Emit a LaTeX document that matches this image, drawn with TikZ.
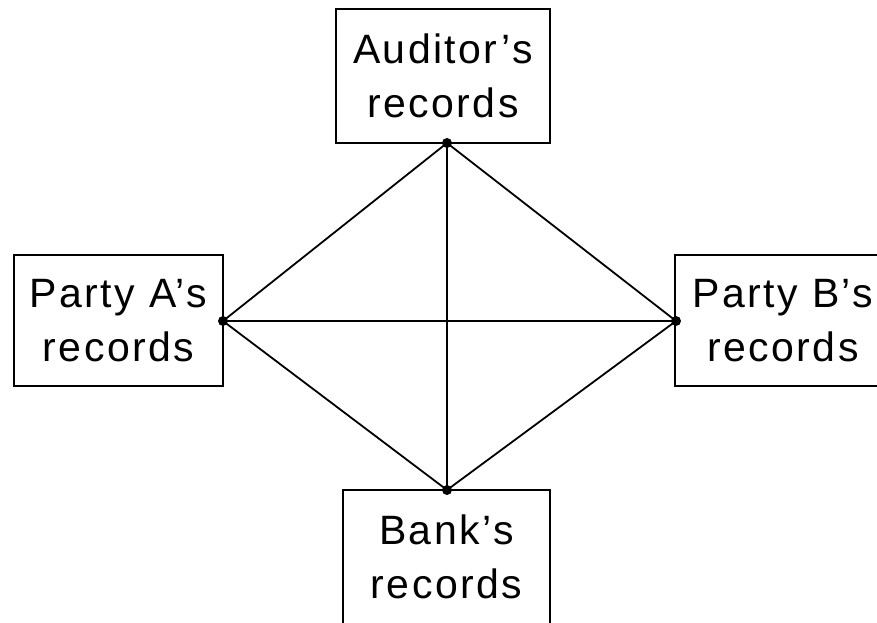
\documentclass[tikz,border=0pt]{standalone}
\usepackage{fontspec}
\setmainfont{Liberation Sans}[LetterSpace=6]
\begin{document}
\begin{tikzpicture}[x=1pt,y=1pt,
  box/.style={draw, line width=2.2pt, align=center, inner sep=0pt,
    font=\fontsize{41}{54}\selectfont},
  dot/.style={circle, fill, inner sep=0pt, minimum size=10pt},
  link/.style={line width=1.8pt}]
\useasboundingbox (0,0) rectangle (877,622);
\clip (0,0) rectangle (877,622);
\node[box, minimum width=214pt, minimum height=134pt] (aud) at (443,546) {Auditor’s\\records};
\node[box, minimum width=209pt, minimum height=131pt] (pa) at (118.5,301.5) {Party A’s\\records};
\node[box, minimum width=216pt, minimum height=131pt] (pb) at (783,301.5) {Party B’s\\records};
\node[box, minimum width=207pt, minimum height=134pt] (bank) at (446.5,65) {Bank’s\\records};
\node[dot] (dt) at (447,479) {};
\node[dot] (dl) at (223,301) {};
\node[dot] (dr) at (676,301) {};
\node[dot] (db) at (447,132) {};
\draw[link] (dt.center) -- (db.center);
\draw[link] (dl.center) -- (dr.center);
\draw[link] (dt.center) -- (dl.center) -- (db.center) -- (dr.center) -- cycle;
\end{tikzpicture}
\end{document}
